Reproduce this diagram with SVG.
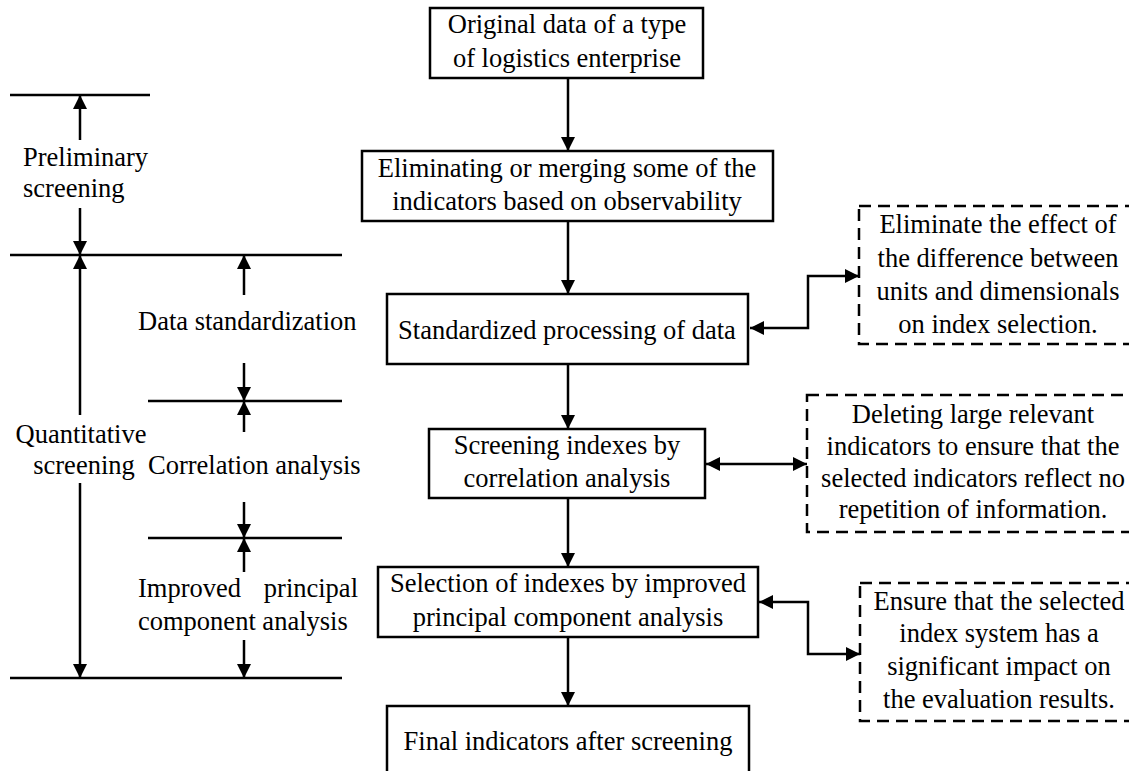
<svg xmlns="http://www.w3.org/2000/svg" width="1129" height="771" viewBox="0 0 1129 771" font-family="'Liberation Serif', Tinos, 'Times New Roman', Times, 'Nimbus Roman', 'DejaVu Serif', serif">
<style>
text{font-family:'Liberation Serif',Tinos,'Times New Roman',Times,'Nimbus Roman','DejaVu Serif',serif;font-size:26.5px;fill:#000}
.c{text-anchor:middle}
.box{fill:#fff;stroke:#000;stroke-width:2.5}
.dash{fill:#fff;stroke:#000;stroke-width:2.5;stroke-dasharray:12 7}
.ln{fill:none;stroke:#000;stroke-width:2.5}
.ar{fill:none;stroke:#000;stroke-width:2.5;marker-end:url(#ah)}
.ar2{fill:none;stroke:#000;stroke-width:2.5;marker-end:url(#ah);marker-start:url(#ahs)}
</style>
<defs>
<marker id="ah" markerUnits="userSpaceOnUse" markerWidth="15" markerHeight="14" refX="14" refY="7" orient="auto"><path d="M0,0 L14,7 L0,14 z" fill="#000"/></marker>
<marker id="ahs" markerUnits="userSpaceOnUse" markerWidth="15" markerHeight="14" refX="14" refY="7" orient="auto-start-reverse"><path d="M0,0 L14,7 L0,14 z" fill="#000"/></marker>
</defs>

<g id="left-scale">
<path class="ln" d="M10 95H150M10 255H342M148 401H342M148 538H342M10 678H342"/>
<path class="ar" d="M80 140V95"/>
<path class="ar" d="M80 208V255"/>
<path class="ar" d="M80 415V255"/>
<path class="ar" d="M80 483V678"/>
<path class="ar" d="M244 295V255"/>
<path class="ar" d="M244 363V401"/>
<path class="ar" d="M244 432V401"/>
<path class="ar" d="M244 502V538"/>
<path class="ar" d="M244 572V538"/>
<path class="ar" d="M244 640V678"/>
<text x="23" y="166">Preliminary</text>
<text x="23" y="197">screening</text>
<text x="81" y="443" class="c">Quantitative</text>
<text x="84" y="474" class="c">screening</text>
<text x="138" y="330">Data standardization</text>
<text x="148" y="474">Correlation analysis</text>
<text x="138" y="597">Improved</text>
<text x="358" y="597" text-anchor="end">principal</text>
<text x="138" y="630">component analysis</text>
</g>

<g id="connectors">
<path class="ar" d="M568 78V151"/>
<path class="ar" d="M568 221V294"/>
<path class="ar" d="M568 364V429"/>
<path class="ar" d="M568 498V567"/>
<path class="ar" d="M568 637V706"/>
<path class="ar2" d="M750 328H808V276H859"/>
<path class="ar2" d="M706 464H807"/>
<path class="ar2" d="M759 602H808V654H860"/>
</g>

<g id="n1"><rect class="box" x="430" y="8" width="273" height="70"/>
<text x="567" y="33" class="c">Original data of a type</text>
<text x="567" y="67" class="c">of logistics enterprise</text></g>

<g id="n2"><rect class="box" x="362" y="151" width="411" height="70"/>
<text x="567" y="177" class="c">Eliminating or merging some of the</text>
<text x="567" y="210" class="c">indicators based on observability</text></g>

<g id="n3"><rect class="box" x="387" y="294" width="361" height="70"/>
<text x="567" y="339" class="c">Standardized processing of data</text></g>

<g id="n4"><rect class="box" x="429" y="429" width="276" height="69"/>
<text x="567" y="454" class="c">Screening indexes by</text>
<text x="567" y="487" class="c">correlation analysis</text></g>

<g id="n5"><rect class="box" x="378" y="567" width="380" height="70"/>
<text x="568" y="592" class="c">Selection of indexes by improved</text>
<text x="568" y="626" class="c">principal component analysis</text></g>

<g id="n6"><rect class="box" x="387" y="706" width="362" height="90"/>
<text x="568" y="750" class="c">Final indicators after screening</text></g>

<g id="d1"><rect class="dash" x="859" y="206" width="278" height="138"/>
<text x="998" y="233" class="c">Eliminate the effect of</text>
<text x="998" y="267" class="c">the difference between</text>
<text x="998" y="300" class="c">units and dimensionals</text>
<text x="998" y="333" class="c">on index selection.</text></g>

<g id="d2"><rect class="dash" x="807" y="395" width="332" height="137"/>
<text x="973" y="423" class="c">Deleting large relevant</text>
<text x="973" y="455" class="c">indicators to ensure that the</text>
<text x="973" y="487" class="c">selected indicators reflect no</text>
<text x="973" y="518" class="c">repetition of information.</text></g>

<g id="d3"><rect class="dash" x="860" y="583" width="278" height="138"/>
<text x="999" y="610" class="c">Ensure that the selected</text>
<text x="999" y="642" class="c">index system has a</text>
<text x="999" y="675" class="c">significant impact on</text>
<text x="999" y="708" class="c">the evaluation results.</text></g>
</svg>
